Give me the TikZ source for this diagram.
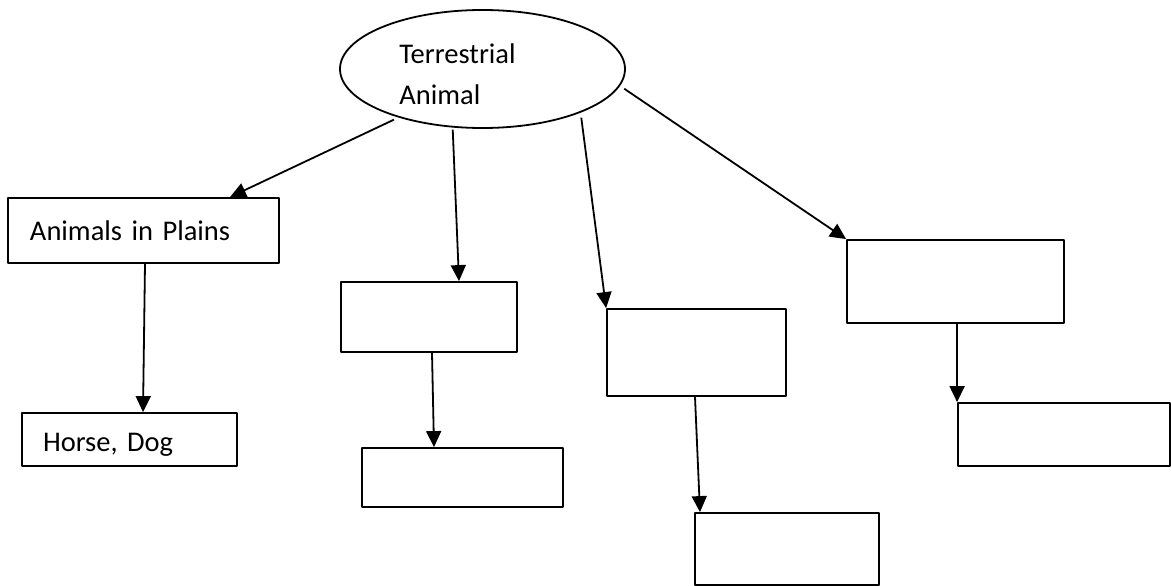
\documentclass[tikz,border=0pt]{standalone}
\usepackage{fontspec}
\setmainfont{Carlito}
\usetikzlibrary{shapes.geometric,arrows.meta}

\begin{document}
\begin{tikzpicture}[x=1pt, y=-1pt, line join = round,
		box/.style={draw, line width=1.8pt, inner sep=0pt},
		arr/.style={-{Triangle[length=16pt,width=15pt]}, line width=1.8pt},
		every node/.style={font=\fontsize{28.5}{41}\selectfont}]
		\useasboundingbox (0,0) rectangle (1171,586);
		
		% root
		\node[ellipse, draw, line width=1.8pt, minimum width=285pt, minimum height=118pt,
		label={[align=left, xshift=-25pt, yshift=-5pt]center:Terrestrial\\Animal}] (ter) at (482.5,69) {};
		
		% first row
		\node[box, minimum width=271pt, minimum height=65pt, text width=227pt, align=left] (plains) at (143.5,230.5) {Animals in Plains};
		\node[box, minimum width=176pt, minimum height=70pt] (b2) at (429,317) {};
		\node[box, minimum width=179pt, minimum height=87pt] (b3) at (696.5,352.5) {};
		\node[box, minimum width=217pt, minimum height=83pt] (b4) at (955.5,281.5) {};
		
		% second row
		\begin{scope}[even odd rule]
		\clip (-10,-10) rectangle (1180,600) (23.5,455) rectangle (235.5,465);
		\node[box, minimum width=215pt, minimum height=53pt, text width=173pt, align=left, text height=24pt, text depth=0pt] (horse) at (129.5,439.5) {Horse, Dog};
		\end{scope}
		\node[box, minimum width=201pt, minimum height=59pt] (b2b) at (462.5,477.5) {};
		\node[box, minimum width=184pt, minimum height=72pt] (b3b) at (787,549) {};
		\node[box, minimum width=212pt, minimum height=63pt] (b4b) at (1064,434.5) {};
		
		\draw[arr, shorten <=5pt] (ter.210) -- ([xshift=86.5pt]plains.north);
		\draw[arr, shorten <=2pt] (ter.243) -- ([xshift=30pt]b2.north);
		\draw[arr, shorten <=5pt] (ter.336) -- (b3.north west);
		\draw[arr, shorten <=5pt] (ter.353) -- (b4.north west);
		
		\draw[arr] ([xshift=1.5pt]plains.south) -- ([xshift=13.5pt]horse.north);
		\draw[arr] ([xshift=3pt]b2.south) -- ([xshift=-28.5pt]b2b.north);
		\draw[arr] ([xshift=-1.5pt]b3.south) -- ([xshift=-87pt]b3b.north);
		\draw[arr] ([xshift=1.5pt]b4.south) -- (b4b.north west);
		
\end{tikzpicture}
\end{document}
